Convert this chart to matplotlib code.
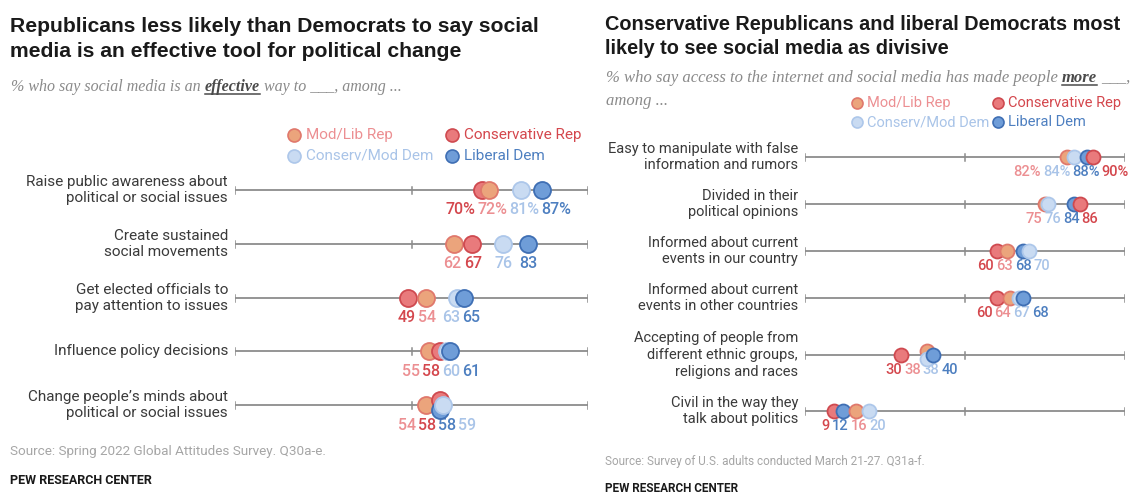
import numpy as np
import matplotlib.pyplot as plt

W, H = 1132, 503

# groups in legend order
groups = ['Mod/Lib Rep', 'Conservative Rep', 'Conserv/Mod Dem', 'Liberal Dem']
dot_face = ['#eba47c', '#e97a7c', '#c9dbf2', '#6f9dd8']
dot_edge = ['#e0786c', '#cf4a50', '#adc7ea', '#3f6fb4']
txt_col = ['#ec8f92', '#d4474d', '#a9c4e8', '#4d7fc0']

# left chart: effective tool for political change
left_items = ['Raise public awareness about\npolitical or social issues',
              'Create sustained\nsocial movements',
              'Get elected officials to\npay attention to issues',
              'Influence policy decisions',
              'Change people\u2019s minds about\npolitical or social issues']
left_modlib = [72, 62, 54, 55, 54]
left_cons = [70, 67, 49, 58, 58]
left_consmod = [81, 76, 63, 60, 59]
left_lib = [87, 83, 65, 61, 58]

# right chart: social media as divisive
right_items = ['Easy to manipulate with false\ninformation and rumors',
               'Divided in their\npolitical opinions',
               'Informed about current\nevents in our country',
               'Informed about current\nevents in other countries',
               'Accepting of people from\ndifferent ethnic groups,\nreligions and races',
               'Civil in the way they\ntalk about politics']
right_modlib = [82, 75, 63, 64, 38, 16]
right_cons = [90, 86, 60, 60, 30, 9]
right_consmod = [84, 76, 70, 67, 38, 20]
right_lib = [88, 84, 68, 68, 40, 12]

plt.rcParams['font.family'] = ['Roboto', 'DejaVu Sans']

fig = plt.figure(figsize=(W / 100, H / 100), dpi=100)
fig.patch.set_facecolor('white')
bg = fig.add_axes([0, 0, 1, 1])
bg.set_xlim(0, W)
bg.set_ylim(H, 0)
bg.axis('off')
renderer = fig.canvas.get_renderer()


def spread(pos, widths, gap, right_lim):
    pos = list(pos)
    for _ in range(300):
        moved = False
        for i in range(len(pos) - 1):
            need = (widths[i] + widths[i + 1]) / 2 + gap
            d = pos[i + 1] - pos[i]
            if d < need - 0.01:
                s = (need - d) / 2
                pos[i] -= s
                pos[i + 1] += s
                moved = True
        over = pos[-1] + widths[-1] / 2 - right_lim
        if over > 0:
            pos = [p - over for p in pos]
            moved = True
        if not moved:
            break
    return pos


def panel(x0, x1, items, series, rows, dot_d, lab_dy, fs_lab, fs_item):
    ax = fig.add_axes([x0 / W, 0, (x1 - x0) / W, 1])
    ax.set_xlim(0, 100)
    ax.set_ylim(H, 0)
    ax.axis('off')
    ppu = (x1 - x0) / 100.0
    s = (dot_d * 0.72) ** 2
    for r, (item, y) in enumerate(zip(items, rows)):
        ax.plot([0, 100], [y, y], color='#8c8c8c', lw=1.3, zorder=1)
        for t in [0, 50, 100]:
            ax.plot([t, t], [y - 3.5, y + 3.5], color='#8c8c8c', lw=1.1, zorder=1)
        ax.text(-7 / ppu, y, item, ha='right', va='center', fontsize=fs_item,
                color='#3a3a3a', linespacing=1.25)
        vals = [series[g][r] for g in range(4)]
        order = sorted(range(4), key=lambda g: vals[g])
        # nudge tied values apart vertically
        dys = [0] * 4
        for i in range(3):
            a, b = order[i], order[i + 1]
            if vals[a] == vals[b]:
                dys[a] = -dot_d * 0.28
                dys[b] = dot_d * 0.28
        for z, g in enumerate(order):
            ax.scatter(vals[g], y + dys[g], s=s, color=dot_face[g], edgecolors=dot_edge[g],
                       linewidths=1.3, zorder=3 + z)
        # value labels, pushed apart so they do not overlap
        texts = []
        for g in order:
            lab = f'{vals[g]}%' if r == 0 else f'{vals[g]}'
            texts.append(ax.text(vals[g], y + lab_dy, lab, ha='center', va='center',
                                 fontsize=fs_lab, color=txt_col[g], fontweight='medium'))
        widths = [t.get_window_extent(renderer).width for t in texts]
        pos = spread([vals[g] * ppu for g in order], widths, 2, W - 3 - x0)
        for t, p in zip(texts, pos):
            t.set_x(p / ppu)
    return ax


def legend(xs, ys, d, fs):
    k = 0
    for yy in ys:
        for xx in xs:
            bg.scatter(xx, yy, s=(d * 0.72) ** 2, color=dot_face[k], edgecolors=dot_edge[k],
                       linewidths=1.2)
            bg.text(xx + d * 0.9, yy, groups[k], ha='left', va='center', fontsize=fs,
                    color=txt_col[k])
            k += 1


def rich(x, y, parts, fs):
    for txt, bold in parts:
        t = bg.text(x, y, txt, ha='left', va='baseline', fontsize=fs, style='italic',
                    family='Liberation Serif', color='#4a4a4a' if bold else '#8a8a8a',
                    fontweight='bold' if bold else 'normal')
        w = t.get_window_extent(renderer).width
        if bold:
            bg.plot([x, x + w], [y + 2.5, y + 2.5], color='#4a4a4a', lw=1.1)
        x += w + fs * 0.35


def title(x, ys, lines, fs):
    for yy, line in zip(ys, lines):
        bg.text(x, yy, line, ha='left', va='baseline', fontsize=fs, fontweight='bold',
                family='Liberation Sans', color='#1a1a1a')


# left panel
title(10, [32, 57], ['Republicans less likely than Democrats to say social',
                     'media is an effective tool for political change'], 15.2)
rich(11, 91, [('% who say social media is an', False), ('effective', True),
              ('way to ___, among ...', False)], 11.5)
legend([294, 452], [135, 156], 13, 11)
panel(235, 588, left_items, [left_modlib, left_cons, left_consmod, left_lib],
      [190, 244, 298, 351, 405], 17, 20, 11.5, 11)
bg.text(10, 452, 'Source: Spring 2022 Global Attitudes Survey. Q30a-e.', ha='left',
        va='center', fontsize=9.7, color='#a6a6a6')
bg.text(10, 481, 'PEW RESEARCH CENTER', ha='left', va='center', fontsize=9,
        fontweight='bold', color='#1a1a1a')

# right panel
title(605, [30, 54], ['Conservative Republicans and liberal Democrats most',
                      'likely to see social media as divisive'], 14.3)
rich(606, 82, [('% who say access to the internet and social media has made people', False),
               ('more', True), ('___,', False)], 12)
bg.text(606, 105, 'among ...', ha='left', va='baseline', fontsize=12, style='italic',
        family='Liberation Serif', color='#8a8a8a')
legend([857, 998], [103, 122], 11, 10.5)
panel(805, 1125, right_items, [right_modlib, right_cons, right_consmod, right_lib],
      [157, 204, 251, 298, 355, 411], 14, 15, 10.5, 10.5)
bg.text(605, 462, 'Source: Survey of U.S. adults conducted March 21-27. Q31a-f.', ha='left',
        va='center', fontsize=8.5, color='#a6a6a6')
bg.text(605, 488, 'PEW RESEARCH CENTER', ha='left', va='center', fontsize=8.5,
        fontweight='bold', color='#1a1a1a')

fig.savefig('out.png', dpi=100, facecolor='white')
